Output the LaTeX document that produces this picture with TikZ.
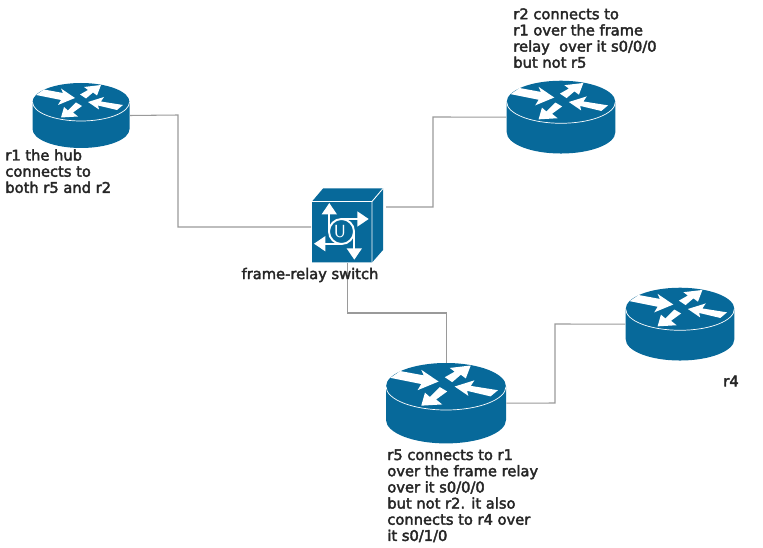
\documentclass[tikz,border=0pt]{standalone}
\usepackage{fontspec}
\usepackage{xcolor}
\usetikzlibrary{arrows.meta}
\newfontfamily\labelfont[FakeBold=2.6]{DejaVu Sans}
\definecolor{ciscoblue}{HTML}{07699A}
\definecolor{linkgray}{HTML}{9A9A9A}

\tikzset{
    pics/router/.style={code={
        \begin{scope}[y=0.2mm]
        \node[minimum width=19.4mm, minimum height=13mm, inner sep=0pt, transform shape] (-box) at (0,-13.5) {};
        \fill[ciscoblue] (-48.5,0) -- (-48.5,-27) arc[x radius=48.5, y radius=19, start angle=180, end angle=360]
            -- (48.5,0) arc[x radius=48.5, y radius=19, start angle=0, end angle=180] -- cycle;
        \draw[white, line width=0.4pt] (-48.5,0) arc[x radius=48.5, y radius=19, start angle=180, end angle=360];
        % the four arrows on the lid
        \fill[white] (-45,7) -- (-37,12.5) -- (-18,9) -- (-20,13.5) -- (-6,4) -- (-23,-3) -- (-20,2) -- cycle;
        \fill[white] (20,17) -- (3,15) -- (7,12) -- (-1,7.5) -- (5,3.5) -- (12,9.5) -- (16,6.5) -- cycle;
        \fill[white] (7,0) -- (23,5) -- (20,0.5) -- (42,-3) -- (36,-8) -- (17,-3.5) -- (18,-7.5) -- cycle;
        \fill[white] (-20,-15.5) -- (-3,-14.5) -- (-8,-10.5) -- (1,-4) -- (-5,-0.5) -- (-13,-8.5) -- (-17,-5) -- cycle;
        \end{scope}
    }},
    pics/frswitch/.style={code={
        \begin{scope}[y=0.2mm]
        \node[minimum width=14.2mm, minimum height=14.8mm, inner sep=0pt] (-box) at (5.5,6) {};
        \fill[ciscoblue] (-30,30.5) -- (-19,43.5) -- (41,43.5) -- (41,-18) -- (30,-30.5) -- (-30,-30.5) -- cycle;
        \draw[white, line width=0.5pt] (-30,30.5) -- (30,30.5) -- (30,-30.5) (30,30.5) -- (41,43.5);
        % swirl and its four arrows
        \draw[white, line width=1.1pt] (-0.5,0.5) circle (12.5);
        \draw[swarrow] (-12.7,0) -- (-12.7,29);
        \draw[swarrow] (-1,13) -- (26.7,13);
        \draw[swarrow] (0,-11.7) -- (-28,-11.7);
        \draw[swarrow] (12.3,0) -- (12.3,-27.7);
        \node[text=white, font=\sffamily\normalsize, inner sep=0pt] (-u) at (-2,0.5) {U};
        \end{scope}
    }},
}

\begin{document}
\begin{tikzpicture}[
    x=0.2mm, y=-0.2mm,
    link/.style={linkgray, line width=0.6pt},
    swarrow/.style={-{Triangle[length=6.5pt, width=8.5pt]}, white, line width=1.1pt},
    note/.style={font=\labelfont\fontsize{8.35}{9.2}\selectfont, align=left, anchor=north west, inner sep=0pt, text=black!85},
]
\useasboundingbox (0,0) rectangle (763,548);

% Routers and switch
\pic (r1) at (81,102) {router};
\pic[scale=1.12] (r2) at (561,102) {router};
\pic[scale=1.237] (r5) at (446,386.5) {router};
\pic[scale=1.12] (r4) at (680,309) {router};
\pic (sw) at (342,232) {frswitch};
\coordinate (swright) at (386,207);
\coordinate (swleft) at (311,227);
\coordinate (swdown) at (347.5,263);
\coordinate (r5top) at (446.5,363);

% Links
\draw[link] (r1-box.east) -- (178,115) -- (178,227) -- (swleft);
\draw[link] (r2-box.west) -- (433,117) -- (433,207) -- (swright);
\draw[link] (swdown) -- (347.5,313) -- (446.5,313) -- (r5top);
\draw[link] (r5-box.east) -- (555,403) -- (555,324) -- (r4-box.west);

% Texts
\node[note] (r1text) at (5,149) {r1 the hub\\connects to\\both r5 and r2};
\node[note] (r2text) at (513,8) {r2 connects to\\r1 over the frame\\relay\ \ over it s0/0/0\\but not r5};
\node[note, anchor=center] (swtext) at (310,275) {frame-relay switch};
\node[note] (r5text) at (387,449) {r5 connects to r1\\over the frame relay\\over it s0/0/0\\but not r2. it also\\connects to r4 over\\it s0/1/0};
\node[note, anchor=center] (r4text) at (731,381) {r4};

\end{tikzpicture}
\end{document}
